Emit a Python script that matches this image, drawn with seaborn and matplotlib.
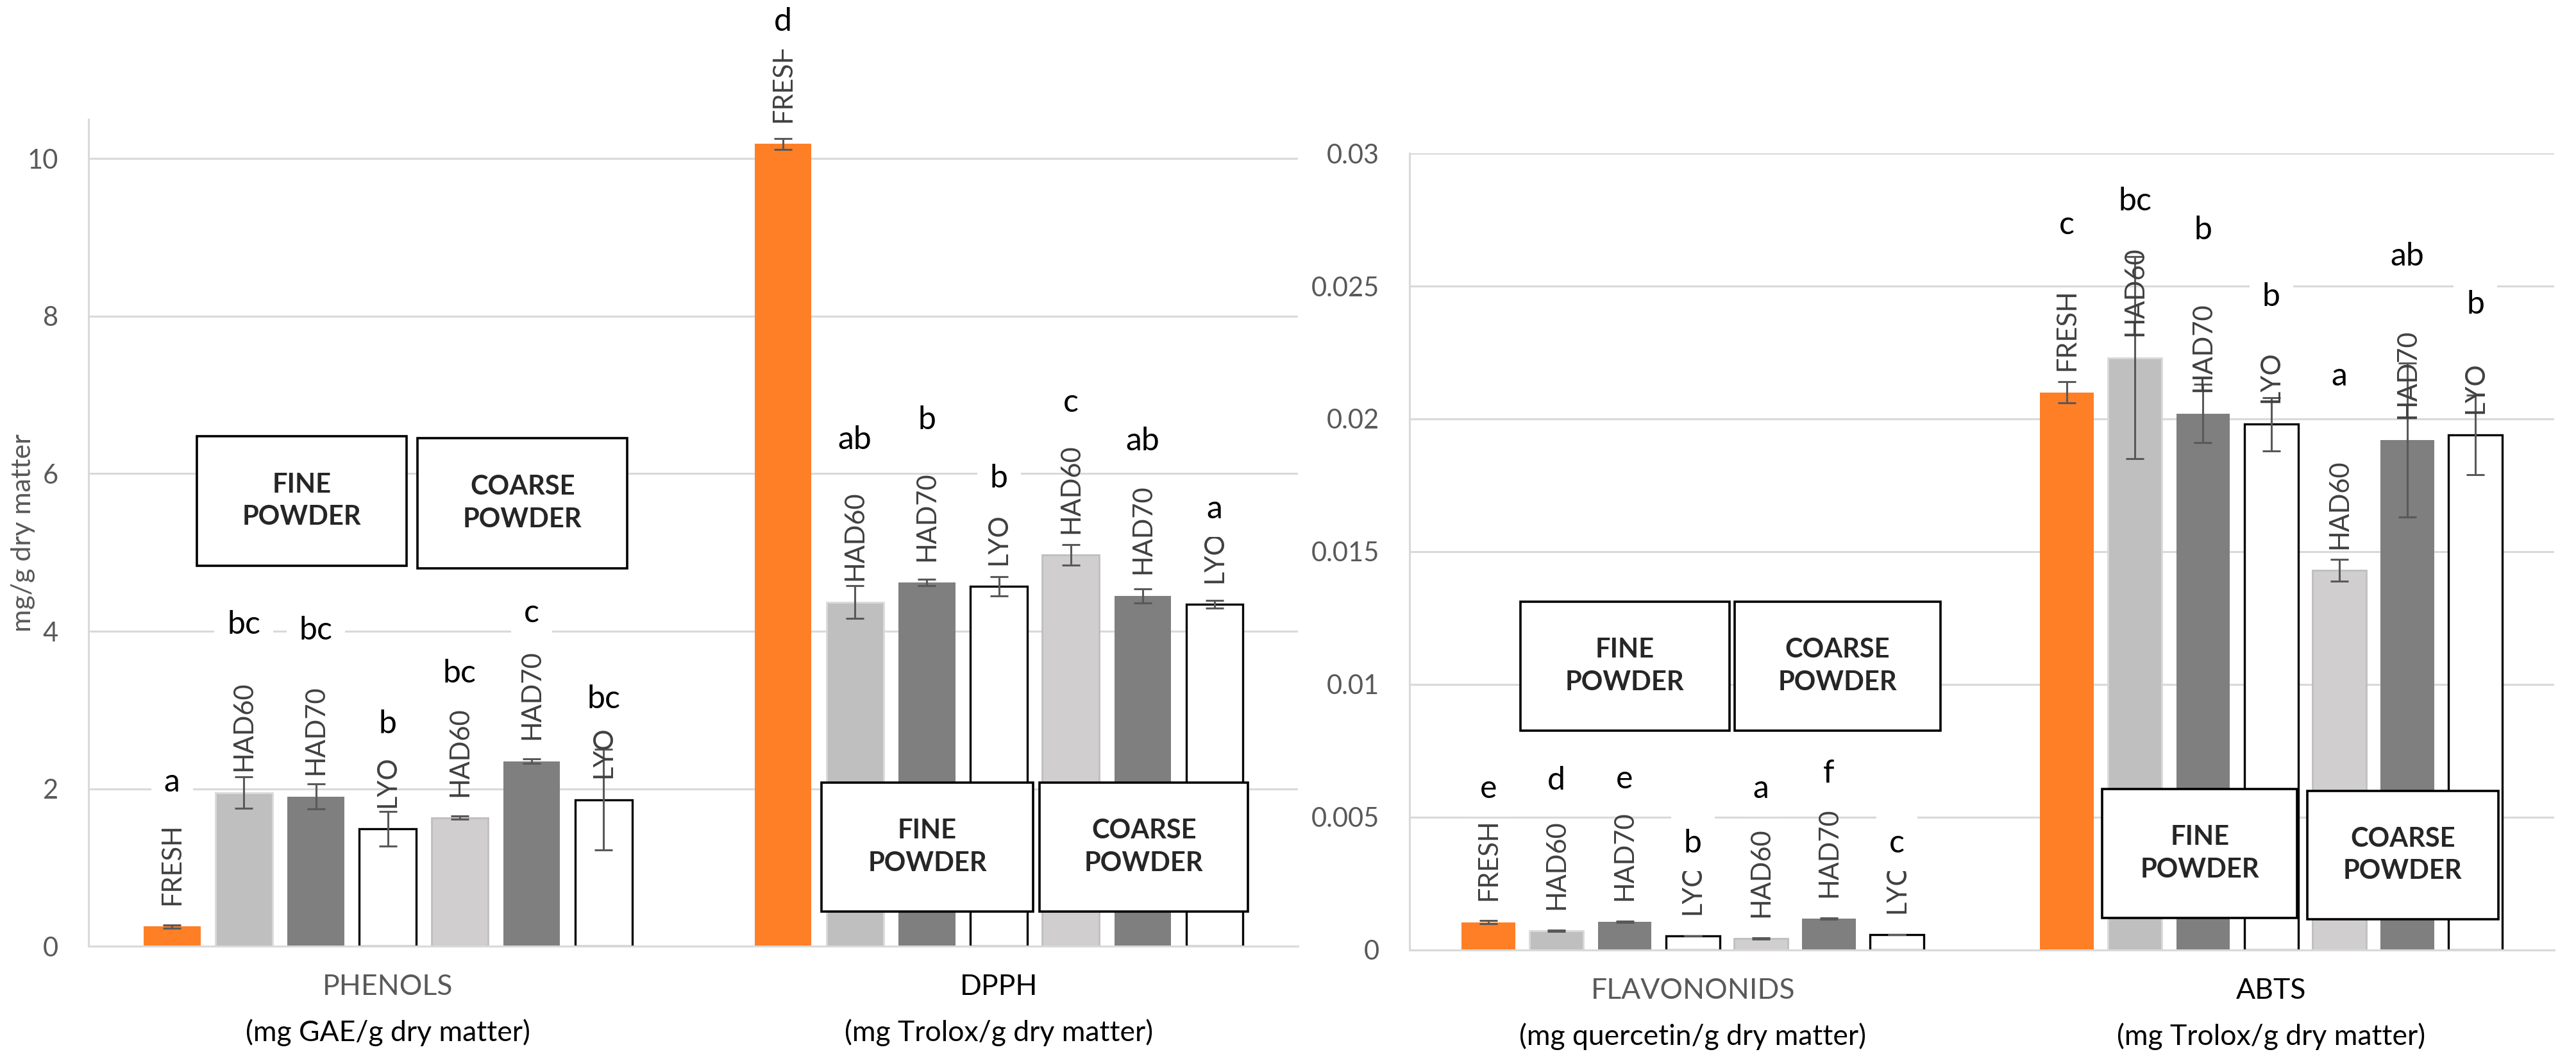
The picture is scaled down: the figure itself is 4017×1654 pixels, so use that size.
import pandas as pd
import seaborn as sns
import matplotlib.pyplot as plt
from matplotlib.patches import Rectangle
from matplotlib.ticker import FuncFormatter, MultipleLocator

# ---- data ----
treatments = ["FRESH", "HAD60 fine", "HAD70 fine", "LYO fine",
              "HAD60 coarse", "HAD70 coarse", "LYO coarse"]
bar_names = ["FRESH", "HAD60", "HAD70", "LYO", "HAD60", "HAD70", "LYO"]

left_assays = ["PHENOLS", "DPPH"]
left_units = ["(mg GAE/g dry matter)", "(mg Trolox/g dry matter)"]
right_assays = ["FLAVONONIDS", "ABTS"]
right_units = ["(mg quercetin/g dry matter)", "(mg Trolox/g dry matter)"]

phenols = [0.25, 1.95, 1.90, 1.49, 1.63, 2.35, 1.86]
phenols_sd = [0.02, 0.20, 0.16, 0.22, 0.02, 0.03, 0.64]
phenols_sig = ["a", "bc", "bc", "b", "bc", "c", "bc"]
phenols_sig_y = [2.08, 4.08, 4.01, 2.82, 3.46, 4.23, 3.14]

dpph = [10.19, 4.37, 4.62, 4.57, 4.97, 4.45, 4.34]
dpph_sd = [0.07, 0.21, 0.04, 0.12, 0.13, 0.09, 0.05]
dpph_sig = ["d", "ab", "b", "b", "c", "ab", "a"]
dpph_sig_y = [11.74, 6.43, 6.68, 5.94, 6.90, 6.41, 5.55]

flavo = [0.00105, 0.00072, 0.00106, 0.00053, 0.00043, 0.00118, 0.00058]
flavo_sd = [0.00005, 0.00003, 0.00002, 0.00001, 0.00003, 0.00002, 0.00001]
flavo_sig = ["e", "d", "e", "b", "a", "f", "c"]
flavo_sig_y = [0.00606, 0.00638, 0.00642, 0.00401, 0.00606, 0.00664, 0.00401]

abts = [0.0210, 0.0223, 0.0202, 0.0198, 0.0143, 0.0192, 0.0194]
abts_sd = [0.0004, 0.0038, 0.0011, 0.0010, 0.0004, 0.0029, 0.0015]
abts_sig = ["c", "bc", "b", "b", "a", "ab", "b"]
abts_sig_y = [0.0273, 0.0282, 0.0271, 0.0246, 0.0216, 0.0261, 0.0243]

# ---- styling ----
palette = {"FRESH": "#FF7F27", "HAD60 fine": "#BFBFBF", "HAD70 fine": "#7F7F7F",
           "LYO fine": "#FFFFFF", "HAD60 coarse": "#D0CECE",
           "HAD70 coarse": "#7F7F7F", "LYO coarse": "#FFFFFF"}
edges = {"FRESH": "none", "HAD60 fine": "#D9D9D9", "HAD70 fine": "none",
         "LYO fine": "black", "HAD60 coarse": "#BFBFBF",
         "HAD70 coarse": "none", "LYO coarse": "black"}
GRID = "#D9D9D9"
TICK = "#595959"

sns.set_style("white")
plt.rcParams["font.family"] = ["Lato", "DejaVu Sans"]


def make_frame(assays, values):
    rows = []
    for assay, vals in zip(assays, values):
        for t, v in zip(treatments, vals):
            rows.append({"assay": assay, "treatment": t, "value": v})
    return pd.DataFrame(rows)


def powder_box(ax, x0, x1, y0, y1, text):
    ax.add_patch(Rectangle((x0, y0), x1 - x0, y1 - y0, fc="white", ec="black",
                           lw=2.6, zorder=6, clip_on=False))
    ax.text((x0 + x1) / 2, (y0 + y1) / 2, text, ha="center", va="center",
            fontsize=30, fontweight="bold", linespacing=1.4, zorder=7)


def draw_panel(ax, assays, units, unit_colors, vals, sds, sigs, sig_ys, top, step):
    df = make_frame(assays, vals)
    sns.barplot(data=df, x="assay", y="value", hue="treatment", order=assays,
                hue_order=treatments, palette=palette, saturation=1,
                width=0.824, gap=0.21, errorbar=None, legend=False, ax=ax,
                zorder=2)

    bar_conts = list(ax.containers)
    for j, cont in enumerate(bar_conts):
        t = treatments[j]
        for i, bar in enumerate(cont):
            bar.set_edgecolor(edges[t])
            bar.set_linewidth(2.4 if t.startswith("LYO") else 2.0)
            x = bar.get_x() + bar.get_width() / 2
            h = bar.get_height()
            ax.errorbar(x, h, yerr=sds[i][j], color="#595959", lw=2.2,
                        capsize=10, capthick=2.2, zorder=3)
            ax.annotate(bar_names[j], (x, h), xytext=(0, 24),
                        textcoords="offset points", rotation=90, ha="center",
                        va="bottom", fontsize=30, color="#404040", zorder=3,
                        annotation_clip=False)
            ax.text(x, sig_ys[i][j], sigs[i][j], ha="center", va="center",
                    fontsize=36, color="black", zorder=4, clip_on=False,
                    bbox=dict(boxstyle="square,pad=0.4", fc="white", ec="none"))

    for i, (name, unit) in enumerate(zip(assays, units)):
        ax.annotate(name, (i, 0), xycoords=("data", "axes fraction"),
                    xytext=(0, -46), textcoords="offset points", ha="center",
                    va="center", fontsize=32, color=unit_colors[i])
        ax.annotate(unit, (i, 0), xycoords=("data", "axes fraction"),
                    xytext=(0, -97), textcoords="offset points", ha="center",
                    va="center", fontsize=32, color="black")

    ax.set_ylim(0, top)
    ax.yaxis.set_major_locator(MultipleLocator(step))
    ax.yaxis.set_major_formatter(FuncFormatter(lambda v, p: "%g" % round(v, 6)))
    ax.yaxis.grid(True, color=GRID, lw=2.2)
    ax.set_axisbelow(True)
    for s in ["top", "right"]:
        ax.spines[s].set_visible(False)
    for s in ["left", "bottom"]:
        ax.spines[s].set_color(GRID)
        ax.spines[s].set_linewidth(2.2)
    ax.tick_params(axis="y", length=0, pad=34, labelsize=30, labelcolor=TICK)
    ax.tick_params(axis="x", length=0)
    ax.set_xticklabels([])
    ax.set_xlabel("")
    ax.set_ylabel("")


fig = plt.figure(figsize=(40.17, 16.54), dpi=100)
ax1 = fig.add_axes([0.0344, 0.1082, 0.4695, 0.7793])
ax2 = fig.add_axes([0.5472, 0.1046, 0.4444, 0.7509])

draw_panel(ax1, left_assays, left_units, [TICK, "black"],
           [phenols, dpph], [phenols_sd, dpph_sd], [phenols_sig, dpph_sig],
           [phenols_sig_y, dpph_sig_y], 10.5, 2)
draw_panel(ax2, right_assays, right_units, [TICK, "black"],
           [flavo, abts], [flavo_sd, abts_sd], [flavo_sig, abts_sig],
           [flavo_sig_y, abts_sig_y], 0.03, 0.005)

ax1.set_ylabel("mg/g dry matter", fontsize=31, color=TICK)
ax1.yaxis.set_label_coords(-0.044, 0.5)

# FINE / COARSE POWDER boxes
powder_box(ax1, -0.312, 0.031, 4.83, 6.48, "FINE\nPOWDER")
powder_box(ax1, 0.049, 0.392, 4.80, 6.45, "COARSE\nPOWDER")
powder_box(ax1, 0.710, 1.056, 0.44, 2.08, "FINE\nPOWDER")
powder_box(ax1, 1.067, 1.408, 0.44, 2.08, "COARSE\nPOWDER")
powder_box(ax2, -0.298, 0.063, 0.00826, 0.01312, "FINE\nPOWDER")
powder_box(ax2, 0.072, 0.428, 0.00826, 0.01312, "COARSE\nPOWDER")
powder_box(ax2, 0.708, 1.045, 0.00121, 0.00606, "FINE\nPOWDER")
powder_box(ax2, 1.062, 1.393, 0.00116, 0.00599, "COARSE\nPOWDER")

fig.savefig("out.png", dpi=100)
